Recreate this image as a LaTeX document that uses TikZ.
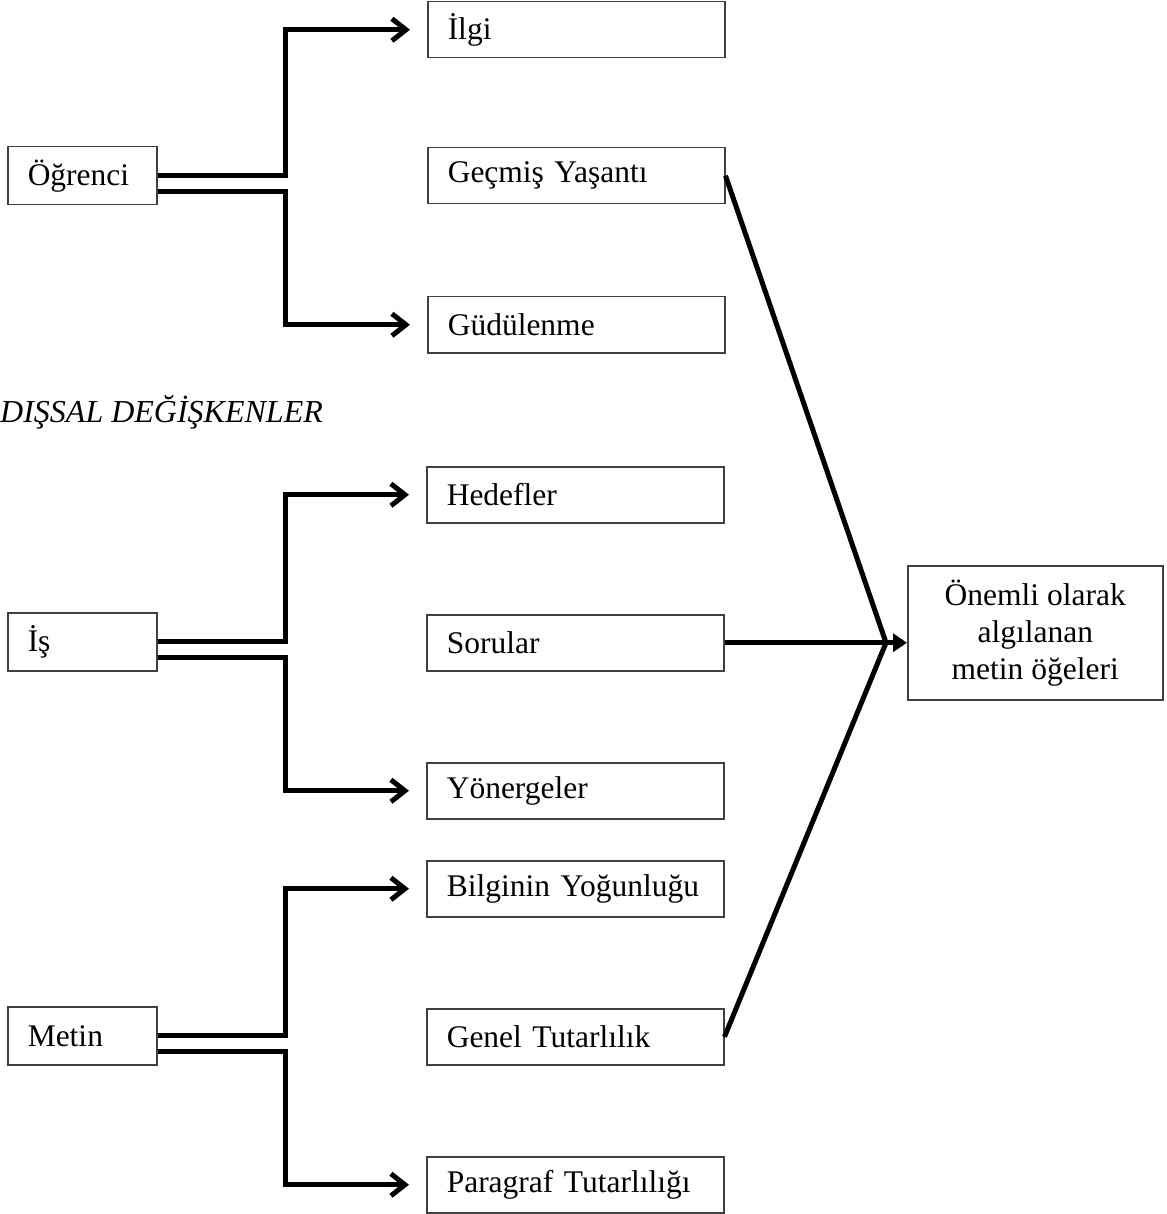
\documentclass[tikz,border=0pt]{standalone}
\usepackage{fontspec}
\setmainfont{Liberation Serif}
\usetikzlibrary{arrows.meta,calc}
\begin{document}
\begin{tikzpicture}[x=1pt,y=-1pt,
  box/.style={draw=black!75,line width=1.5pt,inner xsep=20pt,inner ysep=0pt,align=left,anchor=north west,font=\fontsize{31.5}{37}\selectfont},
  lbox/.style={box,minimum height=58pt,text width=109pt},
  mbox/.style={box,minimum height=56pt,text width=257pt},
  bar/.style={line width=5pt,line join=miter,-{Straight Barb[length=14pt,width=22pt]},shorten >=17pt},
  link/.style={line width=5pt},
]
\useasboundingbox (0,0) rectangle (1166,1214);
\node[lbox] (ogr) at (7,146) {Öğrenci};
\node[mbox] (ilgi) at (427,1) {İlgi};
\node[mbox] (gec) at (427,147) {Geçmiş Yaşantı};
\node[mbox] (gud) at (427,296) {Güdülenme};
\node[anchor=base west,inner sep=0pt,font=\fontsize{32}{37}\selectfont\itshape] (dis) at (0,422) {DIŞSAL DEĞİŞKENLER};
\node[lbox] (is) at (7,612) {İş};
\node[mbox] (hed) at (426,466) {Hedefler};
\node[mbox] (sor) at (426,614) {Sorular};
\node[mbox] (yon) at (426,762) {Yönergeler};
\node[lbox] (met) at (7,1006) {Metin};
\node[mbox] (bil) at (426,860) {Bilginin Yoğunluğu};
\node[mbox] (gen) at (426,1008) {Genel Tutarlılık};
\node[mbox] (par) at (426,1156) {Paragraf Tutarlılığı};
\node[draw=black!75,line width=1.5pt,anchor=north west,minimum width=255pt,minimum height=134pt,inner sep=0pt,align=center,font=\fontsize{31.5}{37}\selectfont] (onem) at (907,565) {Önemli olarak\\algılanan\\metin öğeleri};
\coordinate (jx) at (285,0);
\foreach \src/\up/\dn in {ogr/ilgi/gud, is/hed/yon, met/bil/par} {
  \coordinate (\src-lo) at ([yshift=-16pt]\src.east);
  \draw[bar] (\src.east) -- (\src.east -| jx) |- (\up.west);
  \draw[bar] (\src-lo) -- (\src-lo -| jx) |- (\dn.west);
}
\coordinate (c) at ([xshift=-21pt]sor.east -| onem.west);
\draw[link,line join=miter] (gec.east) -- (c) -- (gen.east);
\draw[link,-{Triangle[length=14pt,width=18pt]}] (sor.east) -- (sor.east -| onem.west);
\end{tikzpicture}
\end{document}
